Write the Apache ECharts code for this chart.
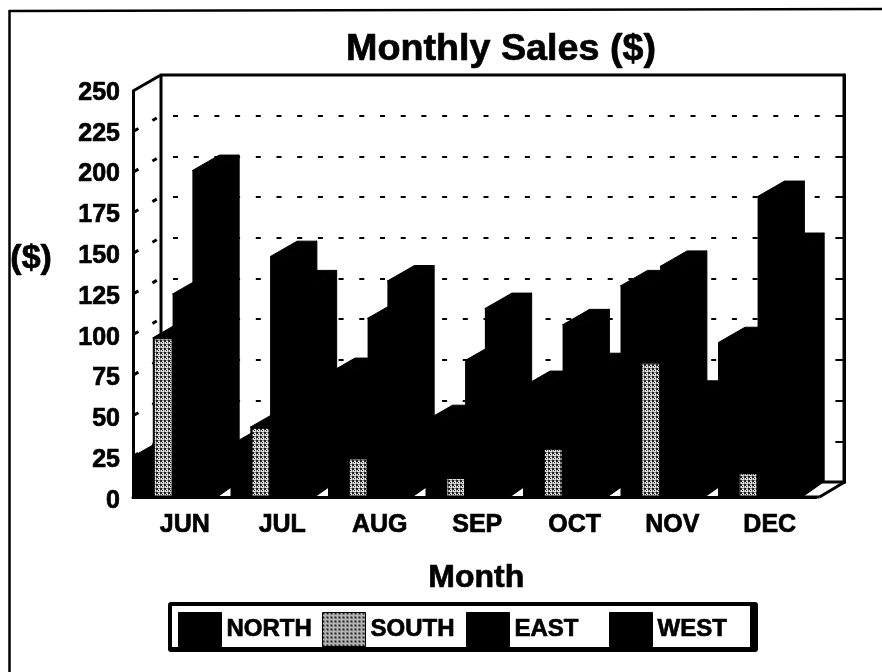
<!DOCTYPE html>
<html><head><meta charset="utf-8">
<style>html,body{margin:0;padding:0;background:#fff}#c{width:882px;height:672px}</style>
<script src="https://cdn.jsdelivr.net/npm/echarts@6/dist/echarts.min.js"></script>
</head><body><div id="c"></div>
<script>
const categories = ['JUN','JUL','AUG','SEP','OCT','NOV','DEC'];
const north = [25, 32, 76, 47, 68, 130, 95];
const south = [98, 43, 24, 12, 30, 83, 15];
const east  = [125, 148, 110, 84, 106, 142, 185];
const west  = [201, 130, 133, 116, 79, 62, 153];
const wallTicks = [0,25,50,75,100,125,150,175,200,225,250];
const legendNames = ['NORTH','SOUTH','EAST','WEST'];

const FONT = '"Liberation Sans", Arial, Helvetica, sans-serif';
const DX = 27, DY = -15.5, BAR_RATIO = 0.203;
const HEAVY = {textBorderColor:'#000', textBorderWidth:0.7};

const cv = document.createElement('canvas'); cv.width = 4; cv.height = 4;
const g = cv.getContext('2d');
g.fillStyle = '#e2e2e2'; g.fillRect(0,0,4,4);
g.fillStyle = '#222'; g.fillRect(0,0,2,2); g.fillRect(2,2,1,1);
g.fillStyle = '#888'; g.fillRect(2,0,2,1); g.fillRect(0,2,1,2);
const stipple = {image: cv, repeat: 'repeat'};

function barSeries(name, values, idx, fill) {
  return {
    name, type: 'custom', xAxisIndex: 0, yAxisIndex: 0, z: 5, clip: false,
    itemStyle: {color: fill},
    data: values.map((v,i)=>[i,v]),
    encode: {x:0, y:1},
    renderItem(params, api) {
      const band = api.size([1,0])[0];
      const w = band * BAR_RATIO;
      const c = api.coord([api.value(0), api.value(1)]);
      const b = api.coord([api.value(0), 0]);
      const x0 = c[0] - band/2 + idx*w, x1 = x0 + w, yt = c[1], yb = b[1];
      const black = {fill:'#000', stroke:'#000', lineWidth:1};
      return {type:'group', children:[
        {type:'polygon', shape:{points:[[x1,yb],[x1+5,yb],[x1+DX,yb+DY],[x1+DX,yt+DY],[x1,yt]]}, style:black},
        {type:'polygon', shape:{points:[[x0,yt],[x0+DX,yt+DY],[x1+DX,yt+DY],[x1,yt]]}, style:black},
        {type:'rect', shape:{x:x0+1,y:yt+0.5,width:w-1,height:yb-yt-1},
         style:{fill, stroke:'#000', lineWidth:2}}
      ]};
    }
  };
}

const legendLefts = [178, 322, 466, 609];
const chart = echarts.init(document.getElementById('c'), null, {renderer:'canvas'});
chart.setOption({
  animation:false,
  backgroundColor:'#fff',
  textStyle:{fontFamily:FONT},
  title:{text:'Monthly Sales ($)', left:496, top:26, textAlign:'center',
    textStyle:Object.assign({fontFamily:FONT,fontWeight:'bold',fontSize:37.7,color:'#000'},HEAVY)},
  grid:[
    {left:133, top:91, width:682.5, height:406, show:false},
    {left:161, top:75, width:683, height:407, show:true, backgroundColor:'#fff', borderColor:'#000', borderWidth:3, z:0},
    {left:133, top:93, width:682.5, height:408, show:false}
  ],
  xAxis:[
    {type:'category', gridIndex:0, data:categories, boundaryGap:true,
     axisLine:{show:true,lineStyle:{color:'#000',width:3}}, axisTick:{show:false},
     axisLabel:Object.assign({color:'#000',fontWeight:'bold',fontSize:25,fontFamily:FONT,margin:16,padding:[0,0,0,6]},HEAVY),
     name:'Month', nameLocation:'middle', nameGap:65,
     nameTextStyle:Object.assign({color:'#000',fontWeight:'bold',fontSize:32,fontFamily:FONT,padding:[0,0,0,4]},HEAVY), z:6},
    {type:'category', gridIndex:1, data:categories, show:false},
    {type:'category', gridIndex:2, data:categories, show:false}
  ],
  yAxis:[
    {type:'value', gridIndex:0, min:0, max:250, interval:25,
     axisLine:{show:true,lineStyle:{color:'#000',width:3}}, axisTick:{show:false}, splitLine:{show:false},
     axisLabel:{show:false}},
    {type:'value', gridIndex:1, min:0, max:250, interval:25, position:'right',
     axisLine:{show:true,lineStyle:{color:'#000',width:3}},
     axisTick:{show:true,inside:true,length:5,lineStyle:{color:'#000',width:2}},
     axisLabel:{show:false},
     splitLine:{show:true,lineStyle:{color:'#000',width:2,type:[5,15.7],dashOffset:8.7}}},
    {type:'value', gridIndex:2, min:0, max:250, interval:25,
     axisLine:{show:false}, axisTick:{show:false}, splitLine:{show:false},
     axisLabel:Object.assign({color:'#000',fontWeight:'bold',fontSize:25,fontFamily:FONT,margin:13},HEAVY)}
  ],
  legend:legendNames.map((n,i)=>({
    data:[n], left:legendLefts[i], top:612, padding:0,
    itemWidth:43, itemHeight:34, icon:'rect', selectedMode:false,
    itemStyle:{borderColor:'#000',borderWidth:1},
    textStyle:Object.assign({color:'#000',fontWeight:'bold',fontSize:24,fontFamily:FONT},HEAVY)
  })),
  graphic:[
    {type:'line', shape:{x1:9.5,y1:10,x2:9.5,y2:672}, style:{stroke:'#000',lineWidth:2.5}, z:1},
    {type:'line', shape:{x1:9,y1:11,x2:882,y2:9}, style:{stroke:'#000',lineWidth:2.5}, z:1},
    {type:'rect', shape:{x:168,y:602,width:590,height:50,r:3}, style:{fill:'#000'}, z:2},
    {type:'rect', shape:{x:172,y:606,width:578,height:41}, style:{fill:'#fff'}, z:3},
    {type:'text', left:10, top:241, style:{text:'($)', fill:'#000', font:'bold 34px '+FONT, stroke:'#000', lineWidth:0.7}, z:6}
  ],
  series:[
    {name:'wall', type:'custom', xAxisIndex:0, yAxisIndex:0, z:3, clip:false, silent:true,
     data:wallTicks.map(v=>[0,v]), encode:{x:0,y:1},
     renderItem(params, api){
       const v = api.value(1);
       const p = api.coord([0,v]);
       const band = api.size([1,0])[0];
       const xl = p[0]-band/2, yl = p[1];
       const st = {stroke:'#000', lineWidth:3, fill:null};
       const ln = (a,b)=>({type:'line',shape:{x1:xl+DX*a,y1:yl+DY*a,x2:xl+DX*b,y2:yl+DY*b},style:st});
       const kids = [];
       if (v===250) kids.push(ln(0,1));
       else if (v>0) { kids.push(ln(0,0.2)); kids.push(ln(0.72,0.88)); }
       return {type:'group',children:kids};
     }},
    {name:'floor', type:'custom', xAxisIndex:0, yAxisIndex:0, z:3, clip:false, silent:true,
     data:[[6,0]], encode:{x:0,y:1},
     renderItem(params, api){
       const p = api.coord([6,0]);
       const band = api.size([1,0])[0];
       const xr = p[0]+band/2+4;
       return {type:'group',children:[
         {type:'line',shape:{x1:xr-20,y1:p[1],x2:xr,y2:p[1]},style:{stroke:'#000',lineWidth:3}},
         {type:'line',shape:{x1:xr,y1:p[1],x2:xr+DX-1,y2:p[1]+DY},style:{stroke:'#000',lineWidth:3}}
       ]};
     }},
    barSeries('NORTH', north, 0, '#000'),
    barSeries('SOUTH', south, 1, stipple),
    barSeries('EAST', east, 2, '#000'),
    barSeries('WEST', west, 3, '#000')
  ]
});
</script></body></html>
